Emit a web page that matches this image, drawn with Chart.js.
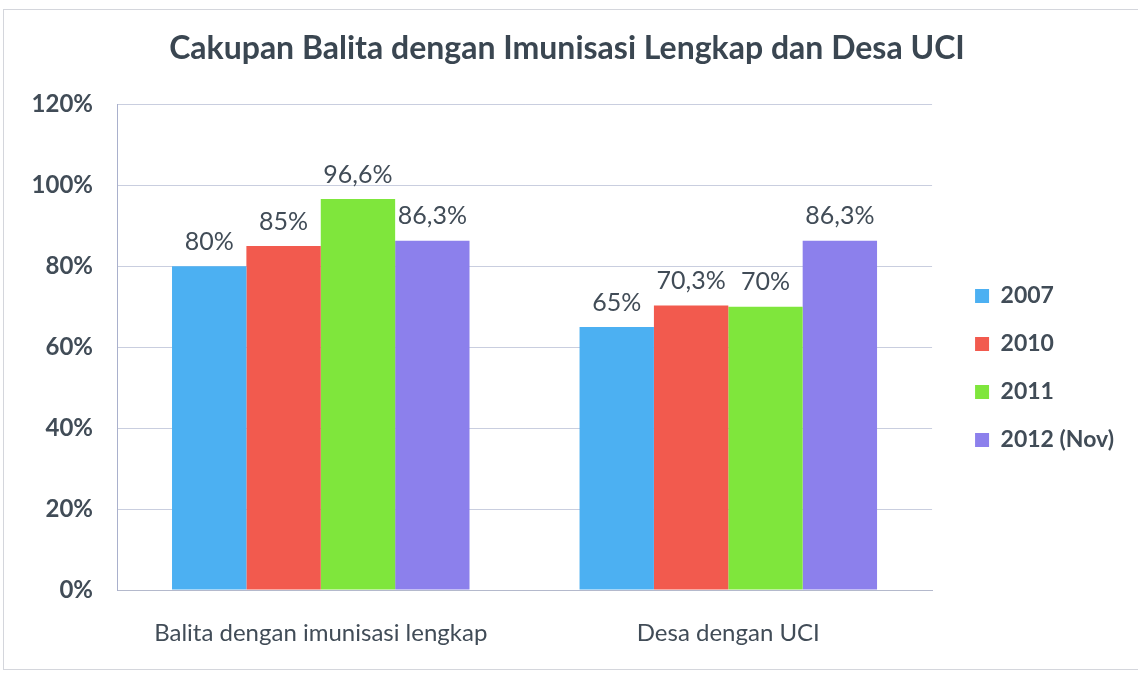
<!DOCTYPE html>
<html>
<head>
<meta charset="utf-8">
<script src="https://cdn.jsdelivr.net/npm/chart.js@4.4.0/dist/chart.umd.min.js"></script>
<style>
  html, body { margin: 0; padding: 0; background: #fff; }
  #frame { position: absolute; left: 3px; top: 9px; width: 1140px; height: 659px; border: 1px solid #d4d6dc; }
  #myChart { position: absolute; left: 0; top: 0; }
</style>
</head>
<body>
<div id="frame"></div>
<canvas id="myChart" width="1138" height="674"></canvas>
<script>
// data
var categories = ['Balita dengan imunisasi lengkap', 'Desa dengan UCI'];
var seriesNames = ['2007', '2010', '2011', '2012 (Nov)'];
var values2007 = [80, 65];
var values2010 = [85, 70.3];
var values2011 = [96.6, 70];
var values2012 = [86.3, 86.3];
var yTicks = [0, 20, 40, 60, 80, 100, 120];

var barColors = ['#4cb0f2', '#f25a4e', '#7fe63c', '#8c80ec'];
var textColor = '#414c57';
var fontName = 'Lato, "Open Sans", sans-serif';

// labels on top of bars (no datalabels plugin available)
var barLabels = {
    id: 'barLabels',
    afterDatasetsDraw: function (chart) {
        var ctx = chart.ctx;
        ctx.save();
        ctx.font = '25px ' + fontName;
        ctx.fillStyle = textColor;
        ctx.textAlign = 'center';
        ctx.textBaseline = 'bottom';
        chart.data.datasets.forEach(function (ds, i) {
            chart.getDatasetMeta(i).data.forEach(function (bar, j) {
                var txt = String(ds.data[j]).replace('.', ',') + '%';
                ctx.fillText(txt, bar.x, bar.y - 12);
            });
        });
        ctx.restore();
    }
};

var allValues = [values2007, values2010, values2011, values2012];

new Chart('myChart', {
    type: 'bar',
    data: {
        labels: categories,
        datasets: seriesNames.map(function (name, i) {
            return {
                label: name,
                data: allValues[i],
                backgroundColor: barColors[i],
                barPercentage: 1,
                categoryPercentage: 0.73
            };
        })
    },
    options: {
        responsive: false,
        animation: false,
        layout: { padding: { left: 10, right: 14, bottom: 10, top: 0 } },
        plugins: {
            title: {
                display: true,
                text: 'Cakupan Balita dengan Imunisasi Lengkap dan Desa UCI',
                color: '#3a4651',
                font: { family: fontName, size: 32, weight: 'bold' },
                padding: { top: 29, bottom: 37 }
            },
            legend: {
                position: 'right',
                // empty title only pushes the items down
                title: { display: true, text: ' ', font: { size: 10 }, padding: 30 },
                labels: {
                    color: textColor,
                    font: { family: fontName, size: 23, weight: 'bold' },
                    boxWidth: 14,
                    boxHeight: 14,
                    padding: 25
                }
            },
            tooltip: { enabled: false }
        },
        scales: {
            x: {
                grid: { display: false },
                border: { color: '#b4b9cc' },
                ticks: {
                    color: textColor,
                    font: { family: fontName, size: 24 },
                    padding: 21
                },
                afterFit: function (axis) { axis.height = 74; }
            },
            y: {
                min: 0,
                max: 120,
                afterBuildTicks: function (axis) {
                    axis.ticks = yTicks.map(function (v) { return { value: v }; });
                },
                grid: { color: '#c9cedf', drawTicks: false },
                border: { color: '#a9b0cc' },
                ticks: {
                    color: textColor,
                    font: { family: fontName, size: 24, weight: 'bold' },
                    padding: 24,
                    callback: function (v) { return v + '%'; }
                },
                afterFit: function (axis) { axis.width = 107; }
            },
            gap: {
                position: 'right',
                grid: { display: false },
                border: { display: false },
                ticks: { display: false },
                afterFit: function (axis) { axis.width = 18; }
            }
        }
    },
    plugins: [barLabels]
});
</script>
</body>
</html>
